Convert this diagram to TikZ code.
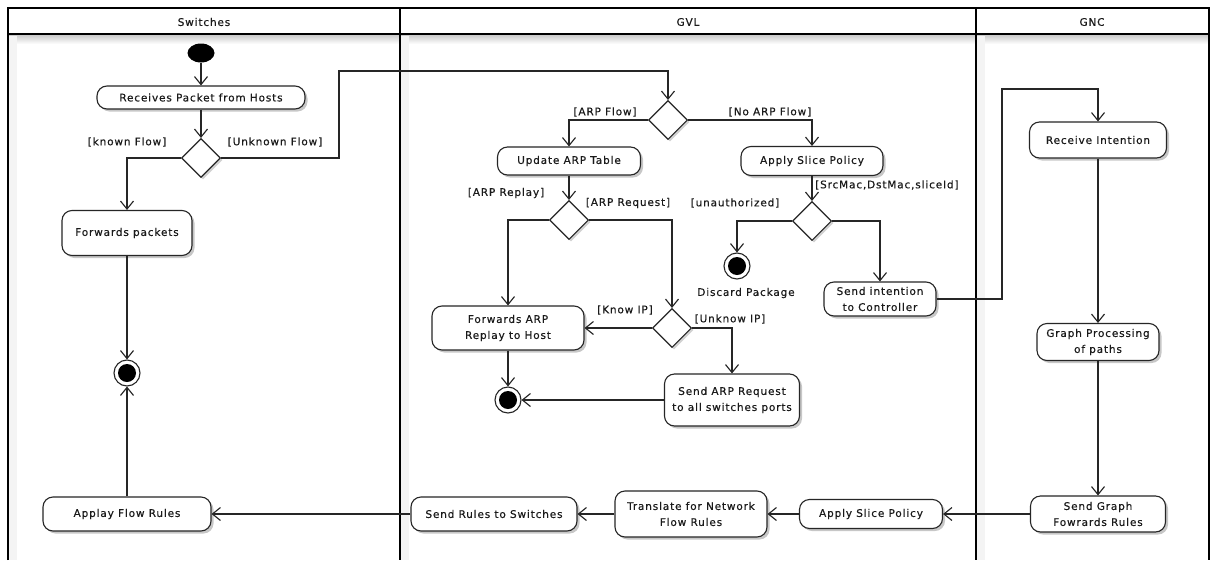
\documentclass[tikz,border=0pt]{standalone}
\usepackage{fontspec}
\newfontfamily\dfont{DejaVu Sans}[LetterSpace=8,FakeBold=0.4]
\usetikzlibrary{arrows.meta,shapes.geometric,shadows}
\definecolor{edge}{HTML}{262626}
\definecolor{txt}{HTML}{1A1A1A}
\begin{document}
\begin{tikzpicture}[x=1pt,y=-1pt,
  every node/.style={font=\dfont\fontsize{10.5}{16}\selectfont, text=txt},
  act/.style={draw=edge, fill=white, rounded corners=10pt, line width=1.1pt,
    align=center, inner sep=0pt,
    drop shadow={shadow xshift=2.5pt, shadow yshift=-2.5pt, opacity=0.22, fill=black}},
  decision/.style={diamond, aspect=1, draw=edge, fill=white, line width=1.1pt,
    minimum width=39pt, minimum height=39pt, inner sep=0pt,
    drop shadow={shadow xshift=2pt, shadow yshift=-2pt, opacity=0.18, fill=black}},
  initial/.style={ellipse, fill=black, minimum width=27pt, minimum height=19pt, inner sep=0pt},
  final/.style={circle, draw=edge, fill=white, line width=1.1pt, minimum size=26pt, inner sep=0pt,
    path picture={\fill[black] (path picture bounding box.center) circle (9pt);}},
  guard/.style={inner sep=1pt},
  flow/.style={draw=edge, line width=1.15pt, -{Straight Barb[length=8pt,width=13pt]}},
  lane/.style={draw=black, line width=1.1pt}
]
\useasboundingbox (0,0) rectangle (1211,560);
\fill[white] (0,0) rectangle (1211,560);

% swimlane backgrounds: shadow under the header and along each lane's left edge
\shade[top color=gray!45, bottom color=white] (8,34) rectangle (1209,44);
\fill[gray!9] (8,36) rectangle (17,560);
\fill[gray!9] (400,36) rectangle (409,560);
\fill[gray!9] (976,36) rectangle (985,560);

% swimlane frame
\draw[lane] (8,560) -- (8,8) -- (1209,8) -- (1209,560);
\draw[lane] (8,34) -- (1209,34);
\draw[lane] (400,8) -- (400,560);
\draw[lane] (976,8) -- (976,560);
\node (hsw) at (204,22) {Switches};
\node (hgvl) at (688,22) {GVL};
\node (hgnc) at (1092,22) {GNC};

% Switches lane
\node[initial] (start) at (201,53) {};
\node[act, minimum width=208pt, minimum height=23pt] (recv) at (201,97.5) {Receives Packet from Hosts};
\node[decision] (sw) at (201,158) {};
\node[act, minimum width=130pt, minimum height=45pt] (fwd) at (127,233) {Forwards packets};
\node[final] (endsw) at (127,373) {};
\node[act, minimum width=168pt, minimum height=34pt] (apf) at (127,514) {Applay Flow Rules};

% GVL lane
\node[decision] (arpq) at (668,120) {};
\node[act, minimum width=143pt, minimum height=28pt] (uarp) at (569,161) {Update ARP Table};
\node[act, minimum width=142pt, minimum height=29pt] (slice) at (812,161) {Apply Slice Policy};
\node[decision] (arpt) at (569,220) {};
\node[decision] (auth) at (812,221) {};
\node[final] (disc) at (737,266) {};
\node[act, minimum width=112pt, minimum height=34pt] (sint) at (880,299) {Send intention\\to Controller};
\node[act, minimum width=152pt, minimum height=44pt] (farp) at (508,328) {Forwards ARP\\Replay to Host};
\node[decision] (ipq) at (672,328) {};
\node[act, minimum width=135pt, minimum height=52pt] (sarp) at (732,400) {Send ARP Request\\to all switches ports};
\node[final] (endarp) at (508,400) {};
\node[act, minimum width=166pt, minimum height=34pt] (srs) at (494,514) {Send Rules to Switches};
\node[act, minimum width=152pt, minimum height=46pt] (trans) at (691,514) {Translate for Network\\Flow Rules};
\node[act, minimum width=143pt, minimum height=29pt] (slice2) at (871,514) {Apply Slice Policy};

% GNC lane
\node[act, minimum width=137pt, minimum height=36pt] (rint) at (1098,140) {Receive Intention};
\node[act, minimum width=122pt, minimum height=37pt] (gp) at (1098,342) {Graph Processing\\of paths};
\node[act, minimum width=135pt, minimum height=36pt] (sg) at (1098,514) {Send Graph\\Fowrards Rules};

% guards and captions
\node[guard] (gkf) at (127,142) {[known Flow]};
\node[guard] (guf) at (275,142) {[Unknown Flow]};
\node[guard] (gaf) at (605,112) {[ARP Flow]};
\node[guard] (gnaf) at (770,112) {[No ARP Flow]};
\node[guard] (garp) at (506,193) {[ARP Replay]};
\node[guard] (gareq) at (628,203) {[ARP Request]};
\node[guard] (gun) at (735,203) {[unauthorized]};
\node[guard, anchor=west] (gsrc) at (814,185) {[SrcMac,DstMac,sliceId]};
\node[guard] (gkip) at (625,310) {[Know IP]};
\node[guard] (guip) at (730,319) {[Unknow IP]};
\node[guard] (cdisc) at (746,293) {Discard Package};

% control flows
\coordinate (j1) at (339,71);
\coordinate (j2) at (1002,89);
\draw[flow] (start) -- (recv);
\draw[flow] (recv) -- (sw);
\draw[flow] (sw.west) -| (fwd.north);
\draw[flow] (sw.east) -| (j1) -| (arpq.north);
\draw[flow] (fwd) -- (endsw);
\draw[flow] (apf) -- (endsw);
\draw[flow] (arpq.west) -| (uarp.north);
\draw[flow] (arpq.east) -| (slice.north);
\draw[flow] (uarp) -- (arpt);
\draw[flow] (arpt.west) -| (farp.north);
\draw[flow] (arpt.east) -| (ipq.north);
\draw[flow] (ipq.west) -- (farp.east);
\draw[flow] (ipq.east) -| (sarp.north);
\draw[flow] (farp) -- (endarp);
\draw[flow] (sarp) -- (endarp);
\draw[flow] (slice) -- (auth);
\draw[flow] (auth.west) -| (disc.north);
\draw[flow] (auth.east) -| (sint.north);
\draw[flow] (sint.east) -| (j2) -| (rint.north);
\draw[flow] (rint) -- (gp);
\draw[flow] (gp) -- (sg);
\draw[flow] (sg) -- (slice2);
\draw[flow] (slice2) -- (trans);
\draw[flow] (trans) -- (srs);
\draw[flow] (srs) -- (apf);
\end{tikzpicture}
\end{document}
